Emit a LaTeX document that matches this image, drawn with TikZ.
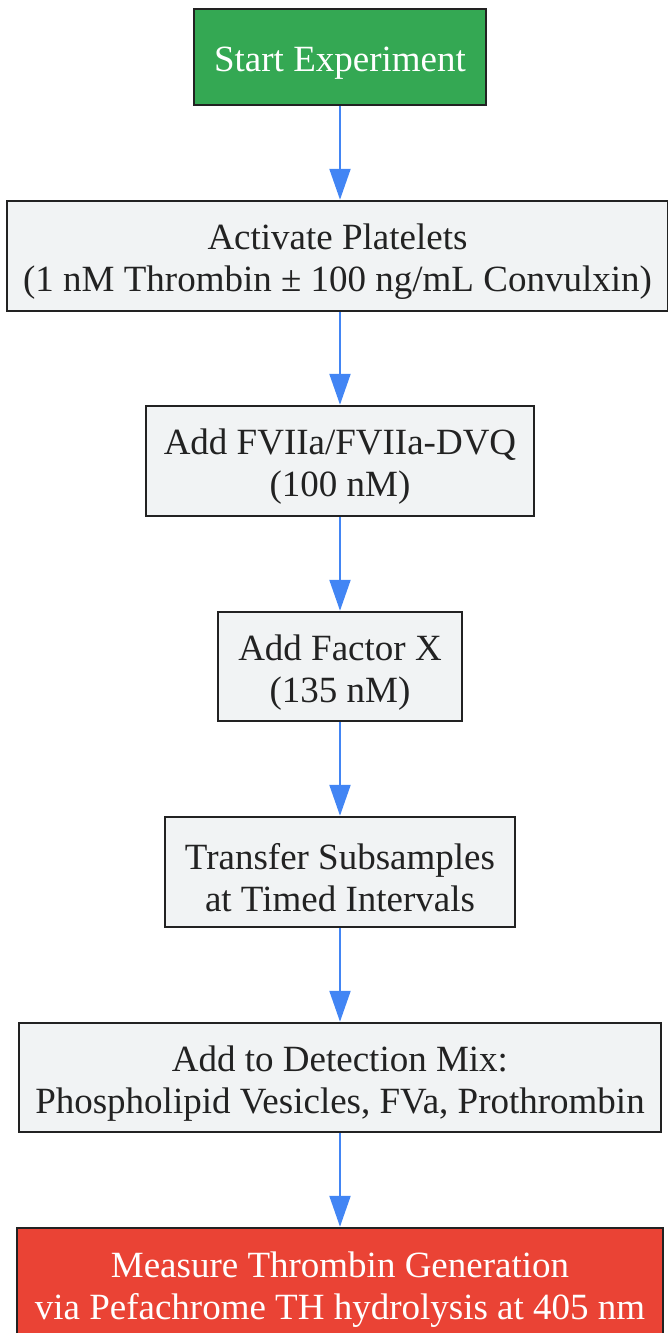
\documentclass[tikz,border=0pt]{standalone}
\usepackage{fontspec}
\setmainfont{Liberation Serif}
\usetikzlibrary{arrows.meta}
\definecolor{gfill}{HTML}{F1F3F4}
\definecolor{startg}{HTML}{34A853}
\definecolor{endr}{HTML}{EA4335}
\definecolor{arrowb}{HTML}{4285F4}
\definecolor{bord}{HTML}{222222}
\begin{document}
\begin{tikzpicture}[x=1pt,y=-1pt,
  box/.style={draw=bord, line width=2.5pt, fill=gfill, inner sep=0pt},
  startbox/.style={box, fill=startg},
  endbox/.style={box, fill=endr},
  txt/.style={text=bord, align=center, inner sep=0pt, font=\fontsize{37}{42}\selectfont},
  wtxt/.style={txt, text=white},
  flow/.style={draw=arrowb, line width=2.2pt, -{Triangle[width=21pt,length=31pt]}}]
\useasboundingbox (0,0) rectangle (668,1333);
\node[startbox, minimum width=292pt, minimum height=96pt] (s) at (340,57) {};
\node[wtxt] (s-t) at ([yshift=-6pt]s.center) {Start Experiment};
\node[box, minimum width=661pt, minimum height=110pt] (a) at (337.5,256) {};
\node[txt] (a-t) at ([yshift=-6pt]a.center) {Activate Platelets\\(1 nM Thrombin ± 100 ng/mL Convulxin)};
\node[box, minimum width=388pt, minimum height=110pt] (f) at (340,461) {};
\node[txt] (f-t) at ([yshift=-6pt]f.center) {Add FVIIa/FVIIa-DVQ\\(100 nM)};
\node[box, minimum width=244pt, minimum height=109pt] (x) at (340,666.5) {};
\node[txt] (x-t) at ([yshift=-6pt]x.center) {Add Factor X\\(135 nM)};
\node[box, minimum width=350pt, minimum height=110pt] (t) at (340,872) {};
\node[txt] (t-t) at ([yshift=-6pt]t.center) {Transfer Subsamples\\at Timed Intervals};
\node[box, minimum width=642pt, minimum height=109pt] (d) at (340,1077.5) {};
\node[txt] (d-t) at ([yshift=-6pt]d.center) {Add to Detection Mix:\\Phospholipid Vesicles, FVa, Prothrombin};
\node[endbox, minimum width=646pt, minimum height=112pt] (m) at (340,1284) {};
\node[wtxt] (m-t) at ([yshift=-6pt]m.center) {Measure Thrombin Generation\\via Pefachrome TH hydrolysis at 405 nm};
\draw[flow] (s.south) -- (s.south |- a.north);
\draw[flow] (a.south -| s.south) -- (f.north);
\draw[flow] (f.south) -- (x.north);
\draw[flow] (x.south) -- (t.north);
\draw[flow] (t.south) -- (d.north);
\draw[flow] (d.south) -- (m.north);
\end{tikzpicture}
\end{document}
